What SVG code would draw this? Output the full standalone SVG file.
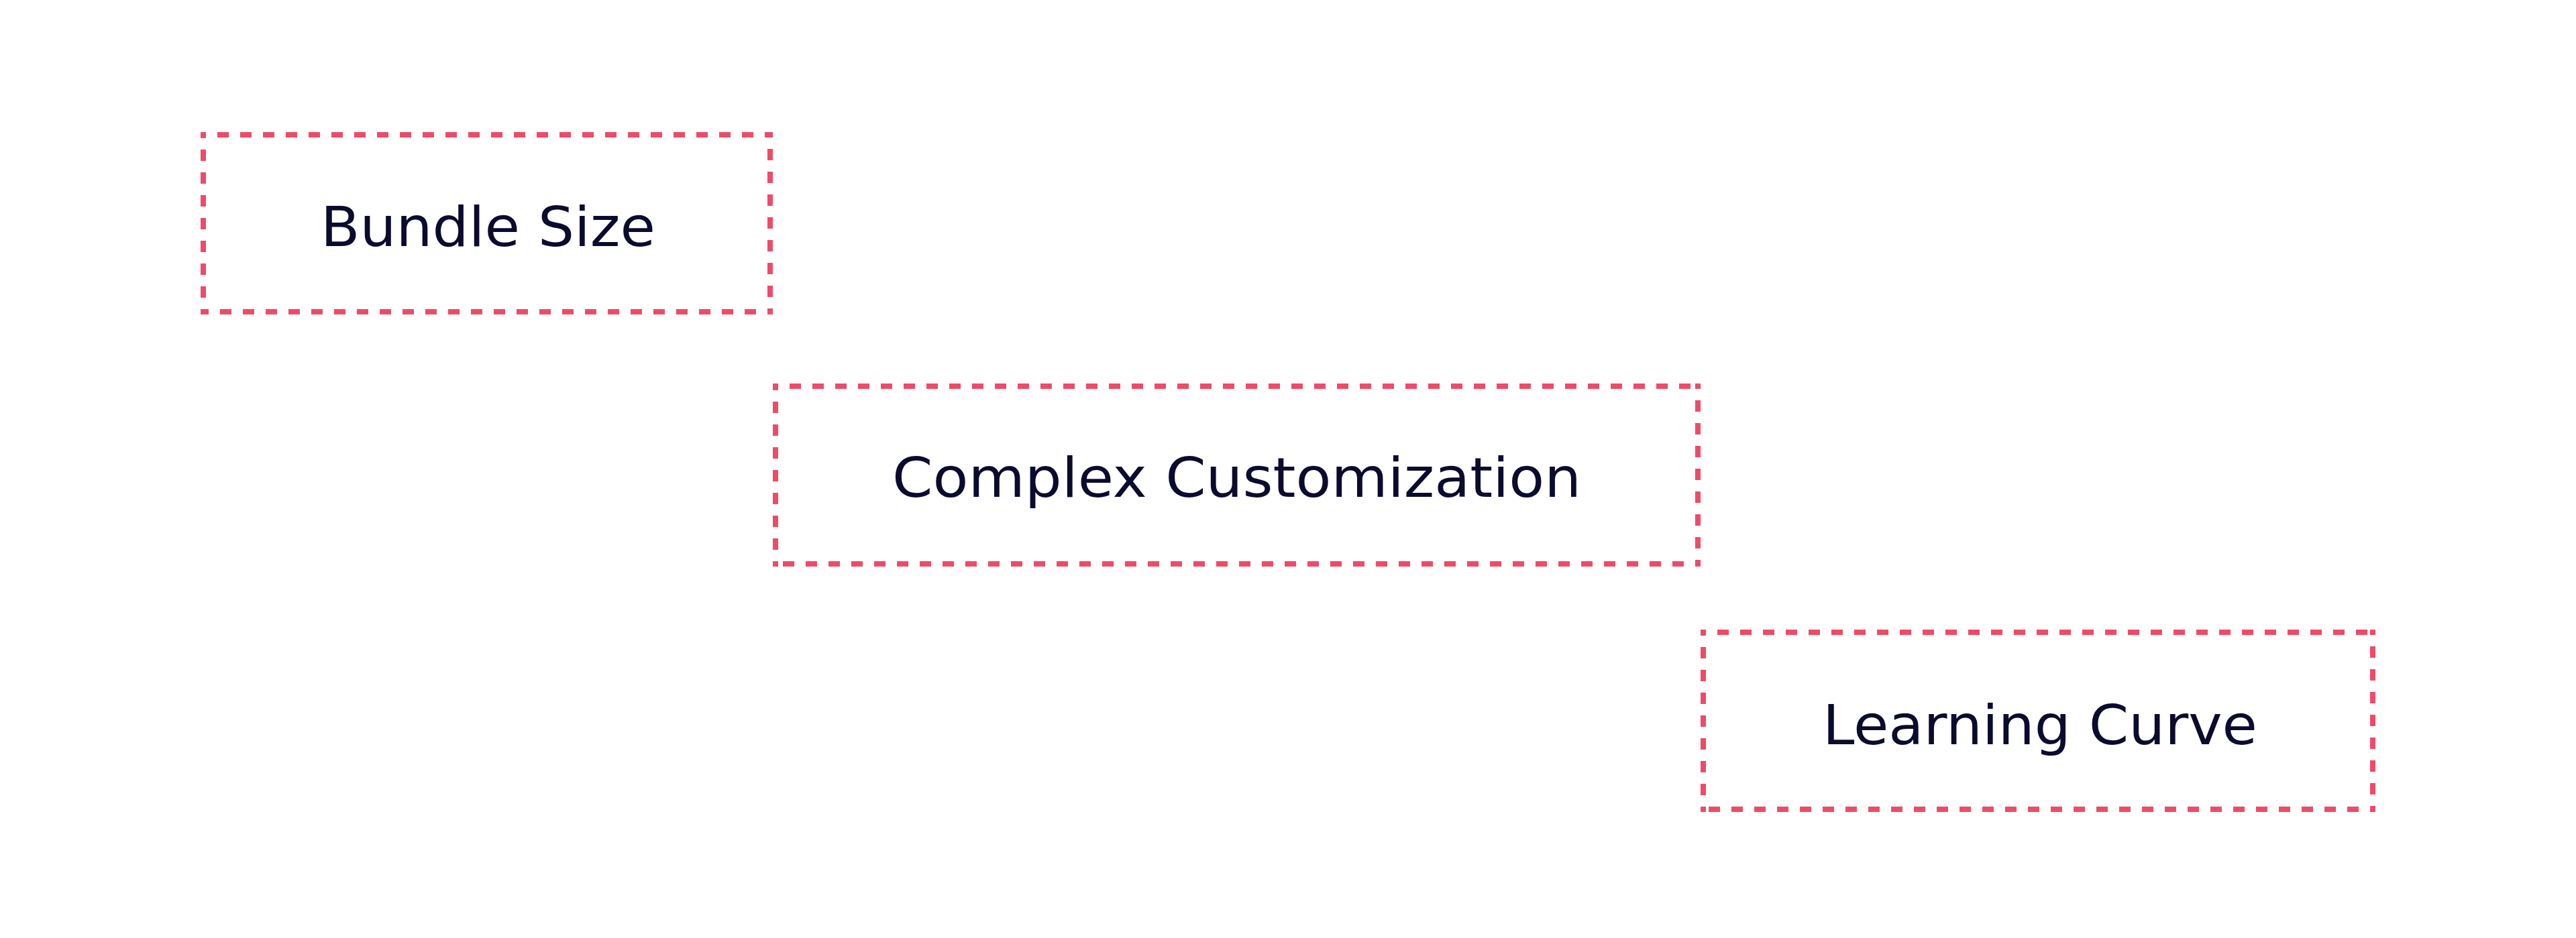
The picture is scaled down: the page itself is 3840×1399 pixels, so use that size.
<svg xmlns="http://www.w3.org/2000/svg" width="3840" height="1399" viewBox="0 0 3840 1399">
  <style>
    .box { fill: none; stroke: #ef4b67; stroke-width: 8; stroke-dasharray: 17 17; stroke-dashoffset: 9; stroke-linecap: butt; }
    .label { font-family: "DejaVu Sans", "Noto Sans", sans-serif; font-size: 82px; fill: #0a0b2e; text-anchor: middle; }
  </style>
  <rect x="0" y="0" width="3840" height="1399" fill="#ffffff"/>
  <g id="connectors"></g>
  <g id="node-bundle-size">
    <path class="box" d="M299 201 H1152 M1148 197 V469 M1152 465 H299 M303 469 V197"/>
    <text class="label" x="727.5" y="367" textLength="499" lengthAdjust="spacingAndGlyphs">Bundle Size</text>
  </g>
  <g id="node-complex-customization">
    <path class="box" d="M1152 576 H2535 M2531 572 V845 M2535 841 H1152 M1156 845 V572"/>
    <text class="label" x="1843.5" y="741" textLength="1027" lengthAdjust="spacingAndGlyphs">Complex Customization</text>
  </g>
  <g id="node-learning-curve">
    <path class="box" d="M2535 943 H3541 M3537 939 V1211 M3541 1207 H2535 M2539 1211 V939"/>
    <text class="label" x="3041" y="1110" textLength="648" lengthAdjust="spacingAndGlyphs">Learning Curve</text>
  </g>
</svg>
